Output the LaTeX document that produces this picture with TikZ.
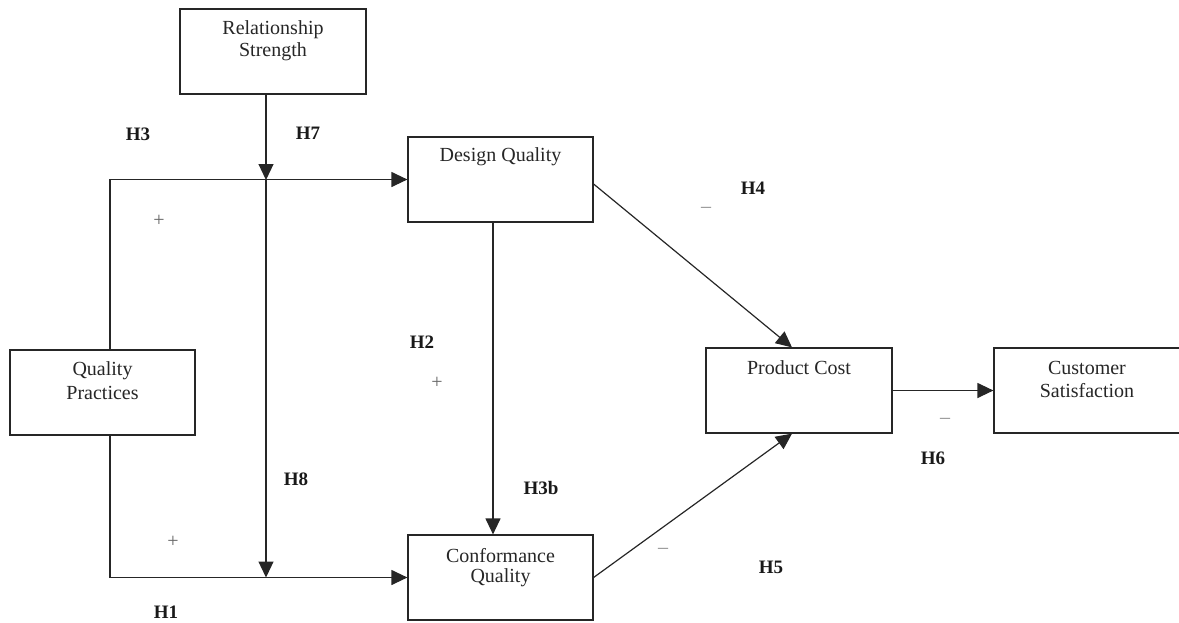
\documentclass[tikz,border=0pt]{standalone}
\usepackage{fontspec}
\setmainfont{Liberation Serif}
\usetikzlibrary{arrows.meta}
\tikzset{
  box/.style={draw=black!85, line width=1.2pt, rectangle, inner sep=0pt},
  txt/.style={font=\fontsize{20}{22}\selectfont, text=black!85, align=center, inner sep=0pt},
  hlab/.style={font=\fontsize{19}{21}\selectfont\bfseries, text=black!90, inner sep=0pt},
  sgn/.style={font=\fontsize{20}{22}\selectfont, text=black!60, inner sep=0pt},
  neg/.style={font=\fontsize{20}{22}\selectfont, text=black!45, inner sep=0pt},
  conn/.style={draw=black!85, line width=1.2pt},
  arr/.style={conn, -{Triangle[length=16pt,width=15pt]}}
}
\begin{document}
\begin{tikzpicture}[x=1pt,y=-1pt]
\useasboundingbox (0,0) rectangle (1179,622);
\clip (0,0) rectangle (1179,622);
% boxes
\node[box, minimum width=186pt, minimum height=85pt] (rs) at (273,51.5) {};
\node[box, minimum width=185pt, minimum height=85pt] (dq) at (500.5,179.5) {};
\node[box, minimum width=185pt, minimum height=85pt] (qp) at (102.5,392.5) {};
\node[box, minimum width=185pt, minimum height=85pt] (cq) at (500.5,577.5) {};
\node[box, minimum width=186pt, minimum height=85pt] (pc) at (799,390.5) {};
\node[box, minimum width=188pt, minimum height=85pt] (cs) at (1088,390.5) {};
% box texts
\node[txt] at (273,30) {Relationship};
\node[txt] at (273,52) {Strength};
\node[txt] at (500.5,157) {Design Quality};
\node[txt] at (102.5,371) {Quality};
\node[txt] at (102.5,393) {Practices};
\node[txt] at (500.5,556) {Conformance};
\node[txt] at (500.5,578) {Quality};
\node[txt] at (799,368) {Product Cost};
\node[txt] at (1087,368) {Customer};
\node[txt] at (1087,391) {Satisfaction};
% junction coordinates
\coordinate (j1) at (266,180);
\coordinate (j2) at (266,577.5);
% connectors
\draw[arr] ([xshift=-7pt]rs.south) -- (j1);
\draw[arr] ([xshift=7.5pt]qp.north) |- (dq.west);
\draw[arr] (j1) -- (j2);
\draw[arr] ([xshift=7.5pt]qp.south) |- (cq.west);
\draw[arr] ([xshift=-7.5pt]dq.south) -- ([xshift=-7.5pt]cq.north);
\draw[arr] ([yshift=-4.5pt]dq.east) -- ([xshift=-7pt]pc.north);
\draw[arr] (cq.east) -- ([xshift=-7pt]pc.south);
\draw[arr] (pc.east) -- (cs.west);
% labels
\node[hlab] (h3) at (138,134) {H3};
\node[hlab] (h7) at (308,133) {H7};
\node[hlab] (h4) at (753,188) {H4};
\node[hlab] (h2) at (422,342) {H2};
\node[hlab] (h3b) at (541,488) {H3b};
\node[hlab] (h8) at (296,479) {H8};
\node[hlab] (h1) at (166,612) {H1};
\node[hlab] (h5) at (771,567) {H5};
\node[hlab] (h6) at (933,458) {H6};
\node[sgn] (p1) at (159,221) {+};
\node[sgn] (p2) at (437,383) {+};
\node[sgn] (p3) at (173,542) {+};
\node[neg] (m1) at (706,210) {–};
\node[neg] (m2) at (663,551) {–};
\node[neg] (m3) at (945,421) {–};
\end{tikzpicture}
\end{document}
